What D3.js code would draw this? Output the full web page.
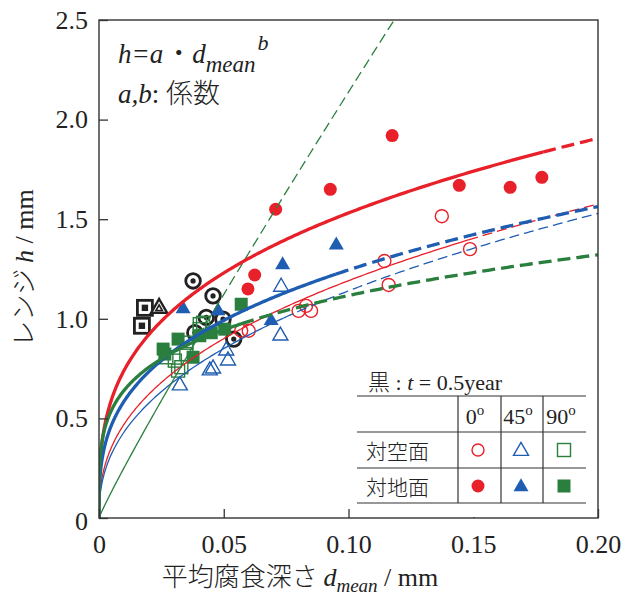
<!DOCTYPE html>
<html>
<head>
<meta charset="utf-8">
<script src="https://cdn.jsdelivr.net/npm/d3@7"></script>
<style>
  body { margin: 0; background: #fff; }
  svg text { font-family: 'Liberation Serif', 'Noto Sans CJK JP', serif; fill: #222; }
  .jp { font-family: 'Noto Sans CJK JP', sans-serif; font-weight: 300; }
</style>
</head>
<body>
<svg id="chart"></svg>
<script>
const RED = '#e8202a'
const BLUE = '#1f5db2'
const GREEN = '#2a7f3f'

const xTicks = [0, 0.05, 0.10, 0.15, 0.20]
const xTickLabels = ['0', '0.05', '0.10', '0.15', '0.20']
const yTicks = [0, 0.5, 1.0, 1.5, 2.0, 2.5]
const yTickLabels = ['0', '0.5', '1.0', '1.5', '2.0', '2.5']

// 対空面 (open) / 対地面 (filled)  [d_mean, h]
const sky0 = [[0.057, 0.94], [0.060, 0.94], [0.080, 1.04], [0.083, 1.065], [0.085, 1.04],
  [0.1144, 1.29], [0.1161, 1.17], [0.1374, 1.515], [0.1487, 1.35]]
const sky45 = [[0.0324, 0.665], [0.0444, 0.74], [0.0457, 0.75], [0.051, 0.84], [0.0517, 0.79],
  [0.073, 1.16], [0.0727, 0.915]]
const sky90 = [[0.027, 0.807], [0.0304, 0.79], [0.0317, 0.74], [0.033, 0.757], [0.035, 0.88],
  [0.035, 0.823], [0.0404, 0.948], [0.0404, 0.973], [0.0417, 0.98]]
const ground0 = [[0.0597, 1.15], [0.0624, 1.22], [0.0708, 1.55], [0.0927, 1.65], [0.1175, 1.92],
  [0.1444, 1.67], [0.1648, 1.66], [0.1775, 1.71]]
const ground45 = [[0.0337, 1.05], [0.0477, 1.04], [0.069, 0.99], [0.0736, 1.27], [0.0951, 1.37]]
const ground90 = [[0.0257, 0.848], [0.0264, 0.823], [0.0317, 0.898], [0.0377, 0.807], [0.0404, 0.915],
  [0.045, 0.93], [0.0504, 0.948], [0.057, 1.073]]

// 黒 : t = 0.5year
const blackSquares = [[0.0184, 1.055], [0.0172, 0.965]]
const blackTriangles = [[0.0241, 1.053]]
const blackCircles = [[0.0377, 1.19], [0.0457, 1.115], [0.054, 0.898], [0.043, 1.007],
  [0.0497, 0.998], [0.0384, 0.93]]

// h = a * d^b : [a, b, end of solid part]
const fitNames = ['sky0', 'sky45', 'sky90', 'ground0', 'ground45', 'ground90']
const fitA = [3.02, 3.02, 18.2, 3.17, 2.65, 1.95]
const fitB = [0.404, 0.423, 0.93, 0.316, 0.328, 0.242]
const fitSolidEnd = [0.148, 0.074, 0.040, 0.178, 0.095, 0.057]
const fitColor = [RED, BLUE, GREEN, RED, BLUE, GREEN]
const fitThick = [false, false, false, true, true, true]

const W = 625, H = 600
const margin = { left: 99, right: 27, top: 20, bottom: 82 }

const svg = d3.select('#chart').attr('width', W).attr('height', H)

const x = d3.scaleLinear().domain([0, 0.2]).range([margin.left, W - margin.right])
const y = d3.scaleLinear().domain([0, 2.5]).range([H - margin.bottom, margin.top])

svg.append('defs').append('clipPath').attr('id', 'plot')
  .append('rect')
  .attr('x', x(0)).attr('y', y(2.5))
  .attr('width', x(0.2) - x(0)).attr('height', y(0) - y(2.5))

// ---------- markers ----------
const pts = svg.append('g').attr('clip-path', 'url(#plot)')

function triPath(cx, cy, s) {
  const h = s * Math.sqrt(3) / 2
  return `M${cx},${cy - h * 2 / 3}L${cx + s / 2},${cy + h / 3}L${cx - s / 2},${cy + h / 3}Z`
}

function drawCircles(g, data, color, filled) {
  g.selectAll(null).data(data).enter().append('circle')
    .attr('cx', d => x(d[0])).attr('cy', d => y(d[1]))
    .attr('r', 6.5)
    .attr('fill', filled ? color : 'none')
    .attr('stroke', filled ? 'none' : color)
    .attr('stroke-width', 1.4)
}

function drawTriangles(g, data, color, filled) {
  g.selectAll(null).data(data).enter().append('path')
    .attr('d', d => triPath(x(d[0]), y(d[1]), 15))
    .attr('fill', filled ? color : 'none')
    .attr('stroke', filled ? 'none' : color)
    .attr('stroke-width', 1.4)
}

function drawSquares(g, data, color, filled) {
  const s = 13
  g.selectAll(null).data(data).enter().append('rect')
    .attr('x', d => x(d[0]) - s / 2).attr('y', d => y(d[1]) - s / 2)
    .attr('width', s).attr('height', s)
    .attr('fill', filled ? color : 'none')
    .attr('stroke', filled ? 'none' : color)
    .attr('stroke-width', 1.4)
}

// black (t = 0.5 year) symbols, drawn with a double outline
pts.selectAll('.bsq').data(blackSquares).enter().append('g').each(function(d) {
  const g = d3.select(this), cx = x(d[0]), cy = y(d[1])
  g.append('rect').attr('x', cx - 7.5).attr('y', cy - 7.5).attr('width', 15).attr('height', 15)
    .attr('fill', '#fff').attr('stroke', '#222').attr('stroke-width', 2.8)
  g.append('rect').attr('x', cx - 3.2).attr('y', cy - 3.2).attr('width', 6.4).attr('height', 6.4)
    .attr('fill', '#222')
})
pts.selectAll('.btr').data(blackTriangles).enter().append('g').each(function(d) {
  const g = d3.select(this), cx = x(d[0]), cy = y(d[1])
  g.append('path').attr('d', triPath(cx, cy, 16)).attr('fill', '#fff')
    .attr('stroke', '#222').attr('stroke-width', 2.4)
  g.append('path').attr('d', triPath(cx, cy + 0.5, 6.5)).attr('fill', 'none')
    .attr('stroke', '#222').attr('stroke-width', 1.7)
})
pts.selectAll('.bci').data(blackCircles).enter().append('g').each(function(d) {
  const g = d3.select(this), cx = x(d[0]), cy = y(d[1])
  g.append('circle').attr('cx', cx).attr('cy', cy).attr('r', 7.3)
    .attr('fill', '#fff').attr('stroke', '#222').attr('stroke-width', 2.8)
  g.append('circle').attr('cx', cx).attr('cy', cy).attr('r', 2.6).attr('fill', '#222')
})

drawSquares(pts, sky90, GREEN, false)
drawTriangles(pts, sky45, BLUE, false)
drawCircles(pts, sky0, RED, false)
drawSquares(pts, ground90, GREEN, true)
drawTriangles(pts, ground45, BLUE, true)
drawCircles(pts, ground0, RED, true)

// ---------- fitted curves ----------
const lines = svg.append('g').attr('clip-path', 'url(#plot)')
const line = d3.line().x(d => x(d[0])).y(d => y(d[1]))

fitNames.forEach((name, i) => {
  const a = fitA[i], b = fitB[i], end = fitSolidEnd[i]
  const ds = d3.range(0, 301).map(k => 0.2 * Math.pow(k / 300, 2.5))
  const curve = ds.map(d => [d, a * Math.pow(d, b)])
  const solid = curve.filter(p => p[0] <= end).concat([[end, a * Math.pow(end, b)]])
  const dashed = [[end, a * Math.pow(end, b)]].concat(curve.filter(p => p[0] > end))
  const w = fitThick[i] ? 3.3 : 1.3
  lines.append('path').datum(solid).attr('d', line)
    .attr('fill', 'none').attr('stroke', fitColor[i]).attr('stroke-width', w)
  lines.append('path').datum(dashed).attr('d', line)
    .attr('fill', 'none').attr('stroke', fitColor[i]).attr('stroke-width', w)
    .attr('stroke-dasharray', fitThick[i] ? '13,6' : '10,5')
})

// ---------- frame & axes ----------
svg.append('rect')
  .attr('x', x(0)).attr('y', y(2.5))
  .attr('width', x(0.2) - x(0)).attr('height', y(0) - y(2.5))
  .attr('fill', 'none').attr('stroke', '#333').attr('stroke-width', 1.4)

const xAxis = svg.append('g').attr('transform', `translate(0,${y(0)})`)
  .call(d3.axisBottom(x).tickValues(xTicks).tickSize(-9).tickFormat((d, i) => xTickLabels[i]).tickPadding(10))
const yAxis = svg.append('g').attr('transform', `translate(${x(0)},0)`)
  .call(d3.axisLeft(y).tickValues(yTicks).tickSize(-9).tickFormat((d, i) => yTickLabels[i]).tickPadding(11))

;[xAxis, yAxis].forEach(g => {
  g.select('.domain').remove()
  g.selectAll('line').attr('stroke', '#333').attr('stroke-width', 1.3)
  g.selectAll('text').attr('font-size', 26).attr('fill', '#222')
    .style('font-family', "'Liberation Serif', serif")
})
xAxis.selectAll('.tick text').attr('dy', '0.95em')
yAxis.selectAll('.tick text').filter(d => d === 0).attr('dy', '0.45em')

// axis titles
const xt = svg.append('text').attr('x', 300).attr('y', 586)
  .attr('text-anchor', 'middle').attr('font-size', 26)
xt.append('tspan').attr('class', 'jp').text('平均腐食深さ ')
xt.append('tspan').attr('font-style', 'italic').text('d')
xt.append('tspan').attr('font-style', 'italic').attr('font-size', 19).attr('dy', 6).text('mean')
xt.append('tspan').attr('dy', -6).text(' / mm')

const yt = svg.append('text').attr('transform', 'translate(33,268) rotate(-90)')
  .attr('text-anchor', 'middle').attr('font-size', 26)
yt.append('tspan').attr('class', 'jp').text('レンジ ')
yt.append('tspan').attr('font-style', 'italic').text('h')
yt.append('tspan').text(' / mm')

// formula
const f1 = svg.append('text').attr('x', 118).attr('y', 63).attr('font-size', 27).attr('font-style', 'italic')
f1.append('tspan').text('h=a')
f1.append('tspan').attr('class', 'jp').attr('font-style', 'normal').attr('dx', 2).text('・')
f1.append('tspan').attr('dx', 0).text('d')
f1.append('tspan').attr('font-size', 23).attr('dy', 9).text('mean')
f1.append('tspan').attr('font-size', 22).attr('dy', -22).attr('dx', 2).text('b')
const f2 = svg.append('text').attr('x', 118).attr('y', 103).attr('font-size', 27)
f2.append('tspan').attr('font-style', 'italic').text('a,b')
f2.append('tspan').text(': ')
f2.append('tspan').attr('class', 'jp').text('係数')

// ---------- legend table ----------
const lg = svg.append('g')
lg.append('rect').attr('x', 357).attr('y', 363).attr('width', 240).attr('height', 154).attr('fill', '#fff')
const t0 = lg.append('text').attr('x', 368).attr('y', 390).attr('font-size', 22)
t0.append('tspan').attr('class', 'jp').text('黒')
t0.append('tspan').text(' : ')
t0.append('tspan').attr('font-style', 'italic').text('t')
t0.append('tspan').text(' = 0.5year')

const hLines = [396, 432, 468, 503]
const vLines = [458, 501, 543]
lg.selectAll('.hl').data(hLines).enter().append('line')
  .attr('x1', 357).attr('x2', 586).attr('y1', d => d).attr('y2', d => d)
  .attr('stroke', '#333').attr('stroke-width', 1.2)
lg.selectAll('.vl').data(vLines).enter().append('line')
  .attr('x1', d => d).attr('x2', d => d).attr('y1', 396).attr('y2', 503)
  .attr('stroke', '#333').attr('stroke-width', 1.2)

const angleLabels = ['0', '45', '90']
const colCenters = [478, 521, 564]
angleLabels.forEach((s, i) => {
  const t = lg.append('text').attr('x', colCenters[i] - 3).attr('y', 424)
    .attr('text-anchor', 'middle').attr('font-size', 22)
  t.append('tspan').text(s)
  t.append('tspan').attr('font-size', 15).attr('dy', -9).text('o')
})
lg.append('text').attr('class', 'jp').attr('x', 366).attr('y', 459).attr('font-size', 21).text('対空面')
lg.append('text').attr('class', 'jp').attr('x', 366).attr('y', 495).attr('font-size', 21).text('対地面')

const rowY = [450, 486]
;[false, true].forEach((filled, r) => {
  const cy = rowY[r]
  lg.append('circle').attr('cx', colCenters[0]).attr('cy', cy).attr('r', filled ? 6.5 : 6)
    .attr('fill', filled ? RED : 'none').attr('stroke', filled ? 'none' : RED).attr('stroke-width', 1.4)
  lg.append('path').attr('d', triPath(colCenters[1], cy + 1, 15))
    .attr('fill', filled ? BLUE : 'none').attr('stroke', filled ? 'none' : BLUE).attr('stroke-width', 1.4)
  lg.append('rect').attr('x', colCenters[2] - 6.5).attr('y', cy - 6.5).attr('width', 13).attr('height', 13)
    .attr('fill', filled ? GREEN : 'none').attr('stroke', filled ? 'none' : GREEN).attr('stroke-width', 1.4)
})
</script>
</body>
</html>
